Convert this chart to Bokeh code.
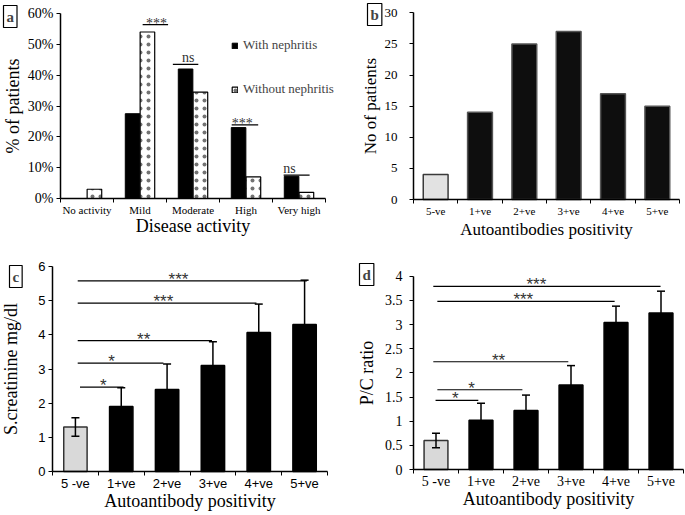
from bokeh.plotting import figure
from bokeh.models import (Range1d, FixedTicker, PrintfTickFormatter, Legend, LegendItem,
                          Label, Whisker, TeeHead, ColumnDataSource)
from bokeh.layouts import column, row
from bokeh.embed import file_html
from bokeh.resources import INLINE
from bokeh.core.properties import value

SERIF = "Liberation Serif"
SANS = "Liberation Sans"

# panel a: disease activity
activity = ["No activity", "Mild", "Moderate", "High", "Very high"]
with_neph = [0, 27.5, 42, 23, 7.2]
without_neph = [3, 54, 34.5, 7, 2]
a_sig_x0 = [1.55, 2.12, 3.23, 4.21]
a_sig_x1 = [2.03, 2.60, 3.73, 4.70]
a_sig_y = [56.4, 43.5, 23.9, 7.6]
a_sig_tx = [1.81, 2.41, 3.43, 4.32]
a_sig_txt = ["***", "ns", "***", "ns"]

# panel b: autoantibodies count
groups_b = ["5-ve", "1+ve", "2+ve", "3+ve", "4+ve", "5+ve"]
counts_b = [4, 14, 25, 27, 17, 15]

# panel c: creatinine
groups_cd = ["5 -ve", "1+ve", "2+ve", "3+ve", "4+ve", "5+ve"]
creat = [1.3, 1.9, 2.4, 3.1, 4.07, 4.3]
creat_err = [0.27, 0.55, 0.75, 0.7, 0.83, 1.3]
c_sig_x0 = [0.6, 0.55, 0.55, 0.55, 0.55]
c_sig_x1 = [1.55, 2.42, 3.48, 4.45, 5.55]
c_sig_y = [2.47, 3.17, 3.83, 4.93, 5.58]
c_sig_tx = [1.11, 1.29, 1.99, 2.42, 2.75]
c_sig_txt = ["*", "*", "**", "***", "***"]

# panel d: P/C ratio
pc = [0.6, 1.02, 1.22, 1.75, 3.04, 3.24]
pc_err = [0.15, 0.35, 0.32, 0.4, 0.34, 0.45]
d_sig_x0 = [0.49, 0.53, 0.44, 0.53, 0.44]
d_sig_x1 = [1.44, 2.42, 3.44, 4.47, 5.49]
d_sig_y = [1.43, 1.65, 2.23, 3.48, 3.79]
d_sig_tx = [0.93, 1.29, 1.89, 2.44, 2.73]
d_sig_txt = ["*", "*", "**", "***", "***"]


def base_fig(w, h, n, ymax, ax_px, end_px, top_px, base_px):
    # axes sit inside the frame so the panel letter can be drawn left of them
    gx = (end_px - ax_px) / n
    gy = (base_px - top_px) / ymax
    p = figure(width=w, height=h, output_backend="svg", toolbar_location=None,
               x_range=Range1d(-ax_px / gx, (w - ax_px) / gx),
               y_range=Range1d(-(h - base_px) / gy, ymax + top_px / gy),
               min_border=0)
    p.outline_line_color = None
    p.grid.visible = False
    centers = [i + 0.5 for i in range(n)]
    p.xaxis.fixed_location = 0
    p.yaxis.fixed_location = 0
    p.xaxis.bounds = (0, n)
    p.yaxis.bounds = (0, ymax)
    p.xaxis.ticker = FixedTicker(ticks=centers, minor_ticks=list(range(n + 1)))
    p.xaxis.major_tick_in = 0
    p.xaxis.major_tick_out = 0
    p.xaxis.minor_tick_in = 0
    p.xaxis.minor_tick_out = 4
    p.yaxis.major_tick_in = 0
    p.yaxis.major_tick_out = 4
    for ax in p.axis:
        ax.axis_line_color = "black"
        ax.axis_line_width = 1.5
        ax.major_tick_line_color = "black"
        ax.minor_tick_line_color = "black"
        ax.major_label_text_color = "black"
        ax.axis_label_text_color = "black"
        ax.axis_label_text_font_style = "normal"
        ax.axis_label_standoff = 2
        ax.major_label_standoff = 3
    p.yaxis.minor_tick_line_color = None
    to_data = lambda px, py: ((px - ax_px) / gx, ymax + (top_px - py) / gy)
    return p, centers, to_data


def panel_letter(p, txt, to_data, px, py):
    x, y = to_data(px, py)
    p.add_layout(Label(x=x, y=y, text=txt, text_font=SERIF, text_font_size="15px",
                       text_font_style="bold", text_baseline="top", text_align="left",
                       border_line_color="black", border_line_width=1.2,
                       background_fill_color="white", padding=3))


def sig_marks(p, x0, x1, y, tx, txt, font, size, star_off):
    p.segment(x0=x0, y0=y, x1=x1, y1=y, line_color="black", line_width=1.2)
    stars = [i for i, t in enumerate(txt) if t.startswith("*")]
    other = [i for i, t in enumerate(txt) if not t.startswith("*")]
    for idx, off in ((stars, star_off), (other, 1)):
        if not idx:
            continue
        p.text(x=[tx[i] for i in idx], y=[y[i] for i in idx], text=[txt[i] for i in idx],
               text_font=value(font), text_font_size=size, text_align="center",
               text_baseline="bottom", y_offset=off, text_color="#333333")


# ---- a ----
pa, ca, da = base_fig(345, 250, len(activity), 60, 60, 325, 13, 198)
r1 = pa.vbar(x=[c - 0.14 for c in ca], top=with_neph, width=0.275,
             fill_color="black", line_color="black")
r2 = pa.vbar(x=[c + 0.14 for c in ca], top=without_neph, width=0.275,
             fill_color="white", line_color="black", line_width=1.2,
             hatch_pattern="dot", hatch_color="black", hatch_scale=8, hatch_weight=0.5,
             hatch_alpha=0.55)
pa.xaxis.major_label_overrides = {c: t for c, t in zip(ca, activity)}
pa.yaxis.ticker = FixedTicker(ticks=[0, 10, 20, 30, 40, 50, 60])
pa.yaxis.formatter = PrintfTickFormatter(format="%d%%")
pa.xaxis.axis_label = "Disease activity"
pa.yaxis.axis_label = "% of patients"
pa.xaxis.major_label_text_font_size = "11px"
pa.yaxis.major_label_text_font_size = "14px"
pa.xaxis.major_label_standoff = 1
pa.xaxis.axis_label_standoff = -3
for ax in pa.axis:
    ax.major_label_text_font = SERIF
    ax.axis_label_text_font = SERIF
    ax.axis_label_text_font_size = "18px"
sig_marks(pa, a_sig_x0, a_sig_x1, a_sig_y, a_sig_tx, a_sig_txt, SERIF, "14px", 6)
leg = Legend(items=[LegendItem(label="With nephritis", renderers=[r1]),
                    LegendItem(label="Without nephritis", renderers=[r2])],
             location=(231, 153), glyph_width=7, glyph_height=7, label_height=14,
             spacing=28, label_standoff=5, padding=0, margin=0,
             border_line_color=None, background_fill_alpha=0,
             label_text_font=SERIF, label_text_font_size="13px")
pa.add_layout(leg)
panel_letter(pa, "a", da, 3, 5)

# ---- b ----
pb, cb, db = base_fig(340, 250, len(groups_b), 30, 68, 334, 12.3, 199)
pb.vbar(x=cb[:1], top=counts_b[:1], width=0.56, fill_color="#e2e2e2",
        line_color="#3a3a3a", line_width=1.5)
pb.vbar(x=cb[1:], top=counts_b[1:], width=0.56, fill_color="#0e0e0e",
        line_color="#555555", line_width=1.5)
pb.xaxis.major_label_overrides = {c: t for c, t in zip(cb, groups_b)}
pb.yaxis.ticker = FixedTicker(ticks=[0, 5, 10, 15, 20, 25, 30])
pb.xaxis.axis_label = "Autoantibodies positivity"
pb.yaxis.axis_label = "No of patients"
pb.xaxis.major_label_text_font_size = "11px"
pb.yaxis.major_label_text_font_size = "13px"
pb.xaxis.major_label_standoff = 1
pb.xaxis.axis_label_standoff = 0
pb.yaxis.major_label_standoff = 12
for ax in pb.axis:
    ax.major_label_text_font = SERIF
    ax.axis_label_text_font = SERIF
    ax.axis_label_text_font_size = "17px"
panel_letter(pb, "b", db, 22, 3)


def err_bars(p, centers, means, errs, width):
    src = ColumnDataSource(dict(x=centers, top=means,
                                upper=[m + e for m, e in zip(means, errs)],
                                lower=[m - e for m, e in zip(means, errs)]))
    p.vbar(x=centers[:1], top=means[:1], width=width, fill_color="#d9d9d9",
           line_color="#333333", line_width=1.5)
    p.vbar(x=centers[1:], top=means[1:], width=width, fill_color="black",
           line_color="black", line_width=1.5)
    p.add_layout(Whisker(source=src, base="x", upper="upper", lower="lower",
                         line_color="black", line_width=1.5, level="overlay",
                         upper_head=TeeHead(size=8, line_color="black", line_width=1.5),
                         lower_head=TeeHead(size=8, line_color="black", line_width=1.5)))


# ---- c ----
pc_fig, cc, dc = base_fig(345, 265, len(groups_cd), 6, 52, 327, 16, 221)
err_bars(pc_fig, cc, creat, creat_err, 0.51)
pc_fig.xaxis.major_label_overrides = {c: t for c, t in zip(cc, groups_cd)}
pc_fig.yaxis.ticker = FixedTicker(ticks=[0, 1, 2, 3, 4, 5, 6])
pc_fig.xaxis.axis_label = "Autoantibody positivity"
pc_fig.yaxis.axis_label = "S.creatinine mg/dl"
pc_fig.xaxis.major_label_standoff = 0
pc_fig.xaxis.axis_label_standoff = -3
pc_fig.yaxis.axis_label_standoff = 14
for ax in pc_fig.axis:
    ax.major_label_text_font = SANS
    ax.major_label_text_font_size = "13px"
    ax.axis_label_text_font = SERIF
    ax.axis_label_text_font_size = "18px"
sig_marks(pc_fig, c_sig_x0, c_sig_x1, c_sig_y, c_sig_tx, c_sig_txt, SANS, "17px", 8)
panel_letter(pc_fig, "c", dc, 9, 15)

# ---- d ----
pd_fig, cd, dd = base_fig(340, 265, len(groups_cd), 4, 68, 338, 25.7, 219)
err_bars(pd_fig, cd, pc, pc_err, 0.53)
pd_fig.xaxis.major_label_overrides = {c: t for c, t in zip(cd, groups_cd)}
pd_fig.yaxis.ticker = FixedTicker(ticks=[0, 0.5, 1, 1.5, 2, 2.5, 3, 3.5, 4])
pd_fig.xaxis.axis_label = "Autoantibody positivity"
pd_fig.yaxis.axis_label = "P/C ratio"
pd_fig.xaxis.major_label_standoff = 0
pd_fig.xaxis.axis_label_standoff = -3
pd_fig.yaxis.major_label_standoff = 7
pd_fig.yaxis.axis_label_standoff = 5
for ax in pd_fig.axis:
    ax.major_label_text_font = SERIF
    ax.major_label_text_font_size = "14px"
    ax.axis_label_text_font = SERIF
    ax.axis_label_text_font_size = "18px"
sig_marks(pd_fig, d_sig_x0, d_sig_x1, d_sig_y, d_sig_tx, d_sig_txt, SANS, "17px", 8)
panel_letter(pd_fig, "d", dd, 14, 13)

layout = column(row(pa, pb), row(pc_fig, pd_fig))
open("out.html", "w").write(file_html(layout, INLINE))
